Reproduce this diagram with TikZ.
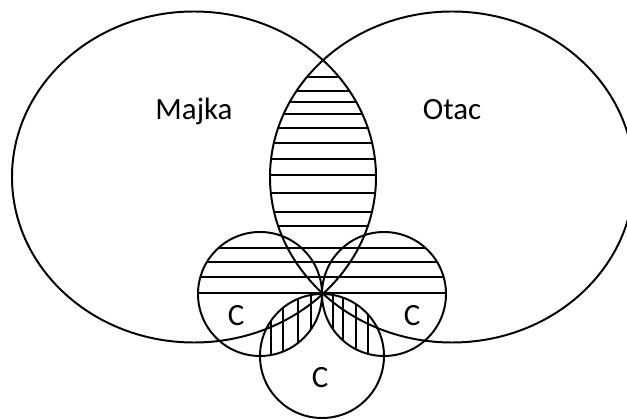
\documentclass[tikz,border=0pt]{standalone}
\usepackage{fontspec}
\setmainfont{Carlito}
\begin{document}
\begin{tikzpicture}[x=0.025cm, y=-0.025cm, line width=1.4pt,
    hatch/.style={line width=0.9pt},
    label/.style={anchor=base, font=\fontsize{22}{26}\selectfont}]
    \useasboundingbox (0,0) rectangle (627,419);
    \begin{scope}
        \clip (194,177) ellipse [x radius=182, y radius=165.5];
        \clip (452,177) ellipse [x radius=182, y radius=165.5];
        \foreach \y in {77,91,102,114,128,143,159,175,193,212,226,248,262,277,293}
            \draw[hatch] (250,\y) -- (400,\y);
    \end{scope}
    \begin{scope}
        \clip (190,220) rectangle (460,294.5);
        \clip (260,294) circle (62) (384,294) circle (62);
        \foreach \y in {248,262,277,293}
            \draw[hatch] (190,\y) -- (460,\y);
    \end{scope}
    \begin{scope}
        \clip (260,294) circle (62);
        \clip (322,356) circle (62);
        \foreach \x in {271,283,298,311}
            \draw[hatch] (\x,280) -- (\x,370);
    \end{scope}
    \begin{scope}
        \clip (384,294) circle (62);
        \clip (322,356) circle (62);
        \foreach \x in {333,343,356,368}
            \draw[hatch] (\x,280) -- (\x,370);
    \end{scope}
    \draw (194,177) ellipse [x radius=182, y radius=165.5];
    \draw (452,177) ellipse [x radius=182, y radius=165.5];
    \draw (260,294) circle (62);
    \draw (384,294) circle (62);
    \draw (322,356) circle (62);
    \node[label] (majka) at (194,119.5) {Majka};
    \node[label] (otac) at (452,120) {Otac};
    \node[label] (cleft) at (236,326) {C};
    \node[label] (cright) at (412,326) {C};
    \node[label] (cbottom) at (320,388) {C};
\end{tikzpicture}
\end{document}
